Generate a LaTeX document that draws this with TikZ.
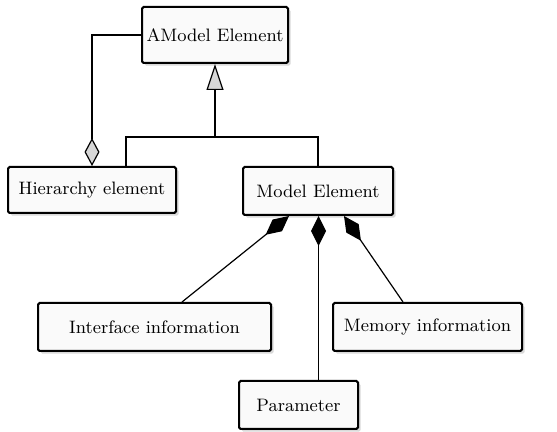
\documentclass[tikz,border=0pt]{standalone}
\usepackage{tikz}
\definecolor{umlfill}{RGB}{250,250,250}
\definecolor{umlgray}{RGB}{215,215,215}
\usetikzlibrary{arrows.meta,positioning,calc,shadows}

\begin{document}
\begin{tikzpicture}[x=0.5pt,y=-0.5pt,
    cls/.style={draw,line width=1pt,fill=umlfill,rounded corners=0.8pt,inner sep=0pt,
      font=\fontsize{9}{11}\selectfont,
      drop shadow={shadow xshift=1.3pt,shadow yshift=-1.3pt,fill=black!25,opacity=0.6}},
    conn/.style={line width=0.6pt},
    gen/.style={-{Triangle[open,fill=umlgray,length=13pt,width=8.5pt,line width=0.6pt]}},
    agg/.style={-{Diamond[open,fill=umlgray,length=14pt,width=7.5pt,line width=0.6pt]}},
    comp/.style={-{Diamond[length=15pt,width=7.5pt]}}]
  \useasboundingbox (0,0) rectangle (557,432);

  % Classes
  \node[cls,minimum width=73pt,minimum height=28pt] (amodel) at (215,35) {AModel Element};
  \node[cls,minimum width=84pt,minimum height=23pt] (hier) at (92,190) {Hierarchy element};
  \node[cls,minimum width=75pt,minimum height=24pt] (model) at (318,191) {Model Element};
  \node[cls,minimum width=116.5pt,minimum height=24pt] (iface) at (154.5,327) {Interface information};
  \node[cls,minimum width=94.5pt,minimum height=24pt] (memory) at (427.5,327) {Memory information};
  \node[cls,minimum width=59.5pt,minimum height=24pt] (param) at (298.5,405) {Parameter};

  % Generalization
  \coordinate (junc) at (215,137);
  \draw[conn] ($(hier.north)+(34,0)$) |- (junc);
  \draw[conn] (model.north) |- (junc);
  \draw[conn,gen] (junc) -- (amodel.south);

  % Aggregation
  \draw[conn,agg] (amodel.west) -| (hier.north);

  % Composition
  \draw[conn,comp] ($(iface.north)+(27.5,0)$) -- ($(model.south)+(-29,0)$);
  \draw[conn,comp] ($(param.north)+(20,0)$) -- ($(model.south)+(0.5,0)$);
  \draw[conn,comp] ($(memory.north)+(-24.5,0)$) -- ($(model.south)+(26,0)$);
\end{tikzpicture}
\end{document}
